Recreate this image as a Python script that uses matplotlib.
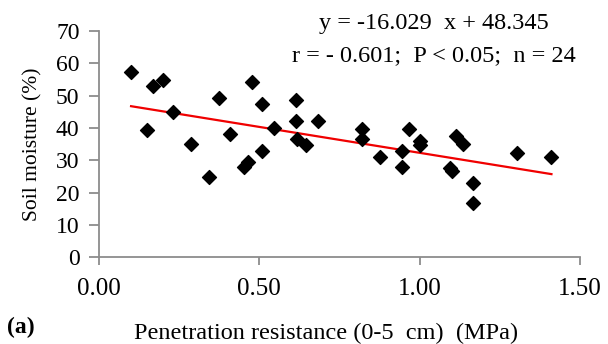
import numpy as np
import matplotlib.pyplot as plt

plt.rcParams['font.family'] = ['Liberation Serif', 'DejaVu Serif']

# penetration resistance (MPa) and soil moisture (%)
resistance = [0.100, 0.168, 0.201, 0.232, 0.150, 0.288, 0.343, 0.373, 0.410,
              0.452, 0.464, 0.476, 0.508, 0.508, 0.547, 0.613, 0.613, 0.619,
              0.646, 0.682, 0.819, 0.819, 0.877, 0.945, 0.945, 0.966, 1.001,
              1.001, 1.113, 1.134, 1.101, 1.094, 1.166, 1.166, 1.305, 1.411]
moisture = [57.2, 53.1, 54.9, 44.9, 39.5, 35.2, 24.9, 49.4, 38.2,
            28.0, 29.4, 54.3, 47.5, 32.8, 40.1, 48.7, 42.1, 36.6,
            34.6, 42.1, 39.6, 36.7, 31.0, 32.8, 28.0, 39.6, 35.9,
            34.7, 37.4, 35.2, 26.8, 27.5, 22.9, 16.9, 32.3, 31.0]

slope, intercept = -16.029, 48.345
x_ticks = [0.0, 0.5, 1.0, 1.5]
y_ticks = list(range(0, 80, 10))

W, H = 608, 344
fig = plt.figure(figsize=(W / 100, H / 100), dpi=100)
ax = fig.add_axes([99 / W, (H - 257.3) / H, 481 / W, 226.3 / H])

ax.scatter(resistance, moisture, marker='D', s=50, color='black', zorder=3)
xs = np.array([min(resistance), max(resistance)])
ax.plot(xs, slope * xs + intercept, color='#f00000', lw=1.6, zorder=2)

ax.set_xlim(0, 1.5)
ax.set_ylim(0, 70)
ax.set_xticks(x_ticks)
ax.set_xticklabels(['%.2f' % t for t in x_ticks])
ax.set_yticks(y_ticks)
for s in ['top', 'right']:
    ax.spines[s].set_visible(False)
for s in ['left', 'bottom']:
    ax.spines[s].set_color('#8c8c8c')
    ax.spines[s].set_linewidth(1.3)
ax.tick_params(colors='#8c8c8c', labelcolor='black', width=1.3)
ax.tick_params(axis='x', labelsize=18, length=6, pad=9)
ax.tick_params(axis='y', labelsize=17, length=7, pad=7)

ax.set_ylabel('Soil moisture (%)', fontsize=15.5, labelpad=10)
fig.text(326 / W, (H - 339) / H, 'Penetration resistance (0-5  cm)  (MPa)',
         fontsize=17.5, ha='center', va='baseline')
fig.text(7 / W, (H - 333) / H, '(a)', fontsize=17, fontweight='bold',
         va='baseline')

fig.text(434 / W, (H - 28.5) / H, 'y = -16.029  x + 48.345',
         ha='center', va='baseline', fontsize=17.5)
fig.text(434 / W, (H - 61) / H, 'r = - 0.601;  P < 0.05;  n = 24',
         ha='center', va='baseline', fontsize=17.5)

fig.savefig('out.png', dpi=100)
